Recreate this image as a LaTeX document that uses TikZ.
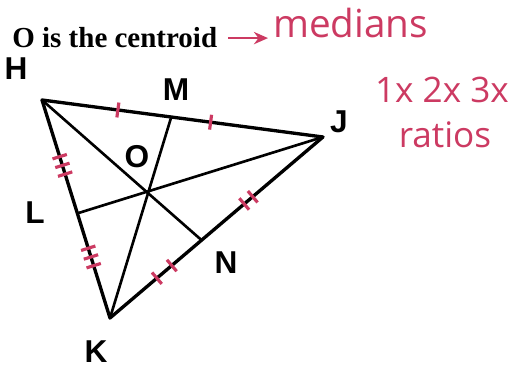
\documentclass[tikz,border=0pt]{standalone}
\usepackage{fontspec}
\setmainfont{Liberation Serif}
\setsansfont{Liberation Sans}
\newfontfamily\handfont{Open Sans}
\usetikzlibrary{arrows.meta,calc,positioning}

\definecolor{ink}{RGB}{204,58,98}

\begin{document}
\begin{tikzpicture}[
  x=0.02cm, y=-0.02cm,
  >={Stealth[length=8pt,width=7pt]},
  side/.style={line width=1.9pt,line join=round},
  median/.style={line width=1.5pt},
  vlabel/.style={font=\sffamily\bfseries\fontsize{18}{20}\selectfont,inner sep=0pt},
  hand/.style={ink,font=\handfont\fontsize{20}{22}\selectfont,inner sep=0pt},
  tk/.style={draw=ink,line width=1.8pt,rectangle,minimum width=0pt,
    minimum height=0.3cm,inner sep=0pt,sloped}
]
  \useasboundingbox (0,0) rectangle (511,371);

  % vertices and midpoints
  \coordinate (H) at (42,100);
  \coordinate (J) at (323,137);
  \coordinate (K) at (110,318);
  \coordinate (M) at ($(H)!0.46!(J)$);
  \coordinate (L) at ($(H)!0.52!(K)$);
  \coordinate (N) at ($(K)!0.43!(J)$);

  % triangle and medians
  \draw[side] (H) -- (J) -- (K) -- cycle;
  \draw[median] (H) -- (N);
  \draw[median] (J) -- (L);
  \draw[median] (K) -- (M);

  % congruence marks
  \path (H) -- (J) node[tk,pos=0.27] {} node[tk,pos=0.60] {};
  \path (H) -- (K)
    node[tk,pos=0.26] {} node[tk,pos=0.30] {} node[tk,pos=0.34] {}
    node[tk,pos=0.68] {} node[tk,pos=0.72] {} node[tk,pos=0.76] {};
  \path (K) -- (J)
    node[tk,pos=0.22] {} node[tk,pos=0.29] {}
    node[tk,pos=0.63] {} node[tk,pos=0.67] {};

  % labels
  \node[vlabel] (lH) at (16,69) {H};
  \node[vlabel] (lM) at (176,90) {M};
  \node[vlabel] (lJ) at (339,122) {J};
  \node[vlabel] (lO) at (137,157) {O};
  \node[vlabel] (lL) at (35,213) {L};
  \node[vlabel] (lN) at (226,263) {N};
  \node[vlabel] (lK) at (96,352) {K};

  \node[anchor=base west,inner sep=0pt,font=\bfseries\fontsize{16.5}{18}\selectfont]
    (title) at (12,48) {O is the centroid};

  % handwritten notes
  \node[hand,anchor=base west,font=\handfont\fontsize{22}{24}\selectfont]
    (med) at (273,38) {medians};
  \node[hand,anchor=base] (mult) at (442,103) {1x 2x 3x};
  \node[hand,anchor=base] (rat) at (445,148) {ratios};
  \draw[ink,line width=1.3pt,->,shorten <=0.22cm,shorten >=0.1cm]
    (title.east) -- (title.east -| med.west);
\end{tikzpicture}
\end{document}
